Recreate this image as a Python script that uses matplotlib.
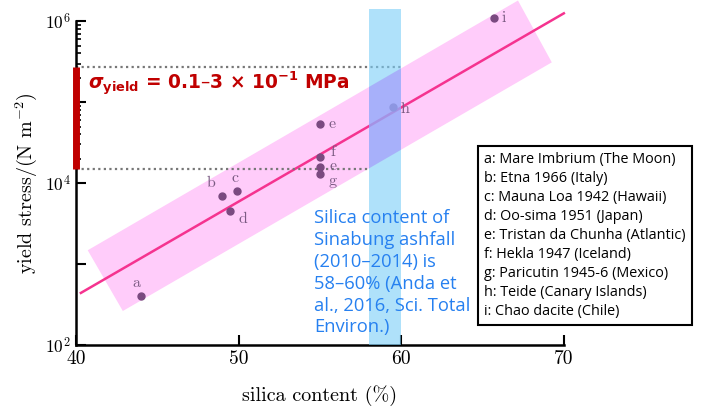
import numpy as np
import matplotlib
matplotlib.use("Agg")
import matplotlib.pyplot as plt
from matplotlib.patches import Polygon, Rectangle
from matplotlib.ticker import FixedLocator, NullFormatter

plt.rcParams['mathtext.fontset'] = 'cm'
plt.rcParams['axes.unicode_minus'] = False

# volcano samples: silica content (%) and yield stress (N m^-2)
labels = ["a", "b", "c", "d", "e", "f", "e", "g", "h", "i"]
silica = [44.0, 49.0, 49.9, 49.5, 55.0, 55.0, 55.0, 55.0, 59.5, 65.7]
stress = [400, 6900, 8100, 4500, 53000, 21000, 16000, 13000, 87000, 1.1e6]
# label offsets in pixels
label_dx = [-5, -11, -2, 12, 12, 13, 13, 13, 12, 10]
label_dy = [13, 13, 12, -8, 0, 5, 0, -7, -2, 0]

# regression line
fit_x = [40.3, 70.0]
fit_y = [440, 1.25e6]

# pink band corners (silica, stress)
band_x = [40.72, 67.18, 69.26, 42.88]
band_y = [1480, 1.8e6, 3.1e5, 263]

# Sinabung silica range
sinabung = [58, 60]
yield_range = [1.5e4, 2.7e5]

legend_lines = [
    "a: Mare Imbrium (The Moon)",
    "b: Etna 1966 (Italy)",
    "c: Mauna Loa 1942 (Hawaii)",
    "d: Oo-sima 1951 (Japan)",
    "e: Tristan da Chunha (Atlantic)",
    "f: Hekla 1947 (Iceland)",
    "g: Paricutin 1945-6 (Mexico)",
    "h: Teide (Canary Islands)",
    "i: Chao dacite (Chile)",
]

fig = plt.figure(figsize=(7.07, 4.12), dpi=100)
ax = fig.add_axes([0.1075, 0.1626, 0.690, 0.786])
ax.set_yscale('log')
ax.set_xlim(40, 70)
ax.set_ylim(1e2, 1e6)

# pink band
pink = Polygon(list(zip(band_x, band_y)), closed=True, facecolor='#ffccfa',
               edgecolor='none', clip_on=False, zorder=1)
ax.add_patch(pink)

# fit line and points
ax.plot(fit_x, fit_y, color='#f5338f', lw=1.8, zorder=2, clip_on=False)
ax.plot(silica, stress, 'o', color='#7a4a80', ms=5, zorder=3, clip_on=False)
for lab, x, y, dx, dy in zip(labels, silica, stress, label_dx, label_dy):
    ax.annotate(lab, (x, y), xytext=(dx * 0.72, dy * 0.72), textcoords='offset points',
                ha='center', va='center', fontsize=11.5, family='cmr10',
                color='#7a5a82', zorder=3, annotation_clip=False)

# dotted guide lines and red bar on the axis
ax.plot([40, sinabung[1]], [yield_range[1]] * 2, color='#777777', lw=1.6,
        ls=(0, (1, 1.5)), zorder=2, clip_on=False)
ax.plot([40, sinabung[0]], [yield_range[0]] * 2, color='#777777', lw=1.6,
        ls=(0, (1, 1.5)), zorder=2, clip_on=False)
ax.plot([40, 40], yield_range, color='#c00000', lw=5, solid_capstyle='butt',
        zorder=6, clip_on=False)

# blue band for Sinabung
top = 1.4e6
blue = Rectangle((sinabung[0], 1e2), sinabung[1] - sinabung[0], top - 1e2,
                 facecolor='#7acdf7', alpha=0.6, edgecolor='none', zorder=4, clip_on=False)
ax.add_patch(blue)
overlap = Rectangle((sinabung[0], 1e2), sinabung[1] - sinabung[0], top - 1e2,
                    facecolor='#a096fc', alpha=0.5, edgecolor='none', zorder=4)
ax.add_patch(overlap)
overlap.set_clip_path(pink)

ax.text(40.75, 1.66e5, r"$\mathbfit{\sigma}_{\mathbf{yield}}$ = 0.1–3 × 10$^{\mathbf{-1}}$ MPa",
        color='#c00000', fontsize=13.4, fontweight='bold', family='DejaVu Sans',
        math_fontfamily='dejavusans', ha='left', va='center', zorder=7)

ax.text(54.66, 4.8e3, "Silica content of\nSinabung ashfall\n(2010–2014) is\n58–60% (Anda et\nal., 2016, Sci. Total\nEnviron.)",
        color='#2680f0', fontsize=13.2, family='Open Sans', ha='left', va='top',
        linespacing=1.28, zorder=7)

# axes styling
for side in ['top', 'right']:
    ax.spines[side].set_visible(False)
for side in ['left', 'bottom']:
    ax.spines[side].set_linewidth(1.8)
ax.set_xticks([40, 50, 60, 70])
ax.set_xticklabels(['40', '50', '60', '70'], family='cmr10', fontsize=14)
ax.yaxis.set_major_locator(FixedLocator([1e2, 1e3, 1e4, 1e5, 1e6]))
ax.set_yticklabels([r'$10^2$', '', r'$10^4$', '', r'$10^6$'], fontsize=12.5)
minor = [m * 10 ** d for d in (4, 5) for m in range(2, 10)]
ax.yaxis.set_minor_locator(FixedLocator(minor))
ax.yaxis.set_minor_formatter(NullFormatter())
ax.tick_params(axis='both', which='major', direction='in', length=7, width=1.5, pad=4)
ax.tick_params(axis='y', which='minor', direction='in', length=3.5, width=1.2)
ax.set_xlabel('silica content (%)', family='cmr10', fontsize=14.5, labelpad=12)
ax.set_ylabel(r'yield stress/(N m$^{-2}$)', family='cmr10', fontsize=14.5)
ax.yaxis.set_label_coords(-0.075, 0.5)

fig.text(484 / 707, 1 - 152 / 412, "\n".join(legend_lines), family='Open Sans',
         fontsize=10.4, ha='left', va='top', linespacing=1.36,
         bbox=dict(boxstyle='square,pad=0.42', facecolor='white', edgecolor='black', lw=1.5))

fig.savefig('out.png', dpi=100)
